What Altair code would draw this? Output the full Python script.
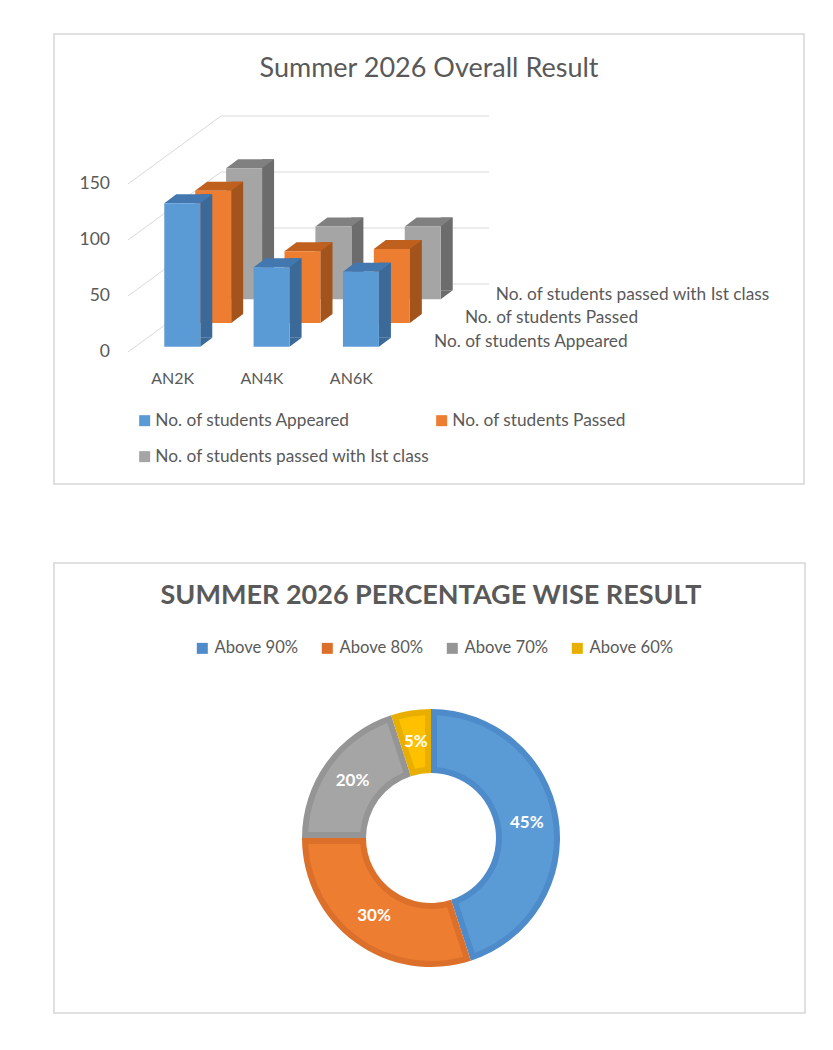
import altair as alt
import pandas as pd

# ---------------- data ----------------
categories = ["AN2K", "AN4K", "AN6K"]
series_names = [
    "No. of students Appeared",
    "No. of students Passed",
    "No. of students passed with Ist class",
]
appeared = [128, 71, 67]
passed = [118, 64, 66]
first_class = [117, 65, 65]
y_ticks = [0, 50, 100, 150]
title1 = "Summer 2026 Overall Result"

pct_labels = ["Above 90%", "Above 80%", "Above 70%", "Above 60%"]
pct_values = [45, 30, 20, 5]
title2 = "SUMMER 2026 PERCENTAGE WISE RESULT"

# ---------------- styles ----------------
FONT = "Lato"
TXT = "#595959"
GRID = "#d9d9d9"
front_colors = ["#5b9bd5", "#ed7d31", "#a5a5a5"]
top_colors = ["#4277b0", "#c0601f", "#808080"]
side_colors = ["#3b6a98", "#a2541c", "#6c6c6c"]
ring_colors = ["#4d8bca", "#dc6f2a", "#959595", "#e8ae00"]
fill_colors = ["#5b9bd5", "#ed7d31", "#a5a5a5", "#ffc000"]

rows = []
for s, vals in zip(series_names, [appeared, passed, first_class]):
    for c, v in zip(categories, vals):
        rows.append({"series": s, "category": c, "value": v})
bars = pd.DataFrame(rows)
grid = pd.DataFrame({"v": y_ticks})
cats_df = pd.DataFrame({"category": categories})

yscale = alt.Scale(domain=[0, 150], range=[318, 150], nice=False, zero=True)
xscale = alt.Scale(domain=categories, range=[74, 342], paddingInner=0, paddingOuter=0)

DEPTH_X = 30.9
DEPTH_Y = -23.7
WALL_Y = -68

legend1 = alt.Legend(
    orient="none", legendX=82, legendY=378, columns=2, direction="horizontal",
    title=None, symbolType="square", symbolSize=121, symbolStrokeWidth=0,
    labelFont=FONT, labelFontSize=17.3, labelColor=TXT, labelLimit=500,
    columnPadding=3, rowPadding=18, labelOffset=2, padding=0,
)

grid_diag = alt.Chart(grid).mark_rule(color=GRID, strokeWidth=1, y2Offset=WALL_Y).encode(
    y=alt.Y("v:Q", scale=yscale, axis=None),
    y2="v:Q",
    x=alt.value(74),
    x2=alt.value(167),
)
grid_back = alt.Chart(grid).mark_rule(color=GRID, strokeWidth=1, yOffset=WALL_Y).encode(
    y=alt.Y("v:Q", scale=yscale, axis=None),
    x=alt.value(167),
    x2=alt.value(435),
)
y_labels = alt.Chart(grid).mark_text(
    align="right", baseline="middle", font=FONT, fontSize=17.5, color=TXT
).encode(y=alt.Y("v:Q", scale=yscale, axis=None), x=alt.value(56), text="v:Q")
x_labels = alt.Chart(cats_df).mark_text(
    align="center", baseline="middle", font=FONT, fontSize=16, color=TXT
).encode(x=alt.X("category:N", scale=xscale, sort=categories, axis=None),
         y=alt.value(345), text="category:N")
t1 = alt.Chart(pd.DataFrame({"t": [title1]})).mark_text(
    align="center", baseline="middle", font=FONT, fontSize=27, color=TXT
).encode(x=alt.value(375), y=alt.value(35), text="t:N")

layers = [grid_diag, grid_back, y_labels, x_labels, t1]
TOP_PATH = "M-0.75,0L0.75,0L1.25,-0.375L-0.25,-0.375Z"
BOT_PATH = "M0.75,0L1.25,-0.375L0.75,-0.375Z"

for i in [2, 1, 0]:
    dx = 9.6 + DEPTH_X * i
    dy = -5.3 + DEPTH_Y * i
    sub = alt.Chart(bars).transform_filter(alt.datum.series == series_names[i])
    x_enc = alt.X("category:N", scale=xscale, sort=categories, axis=None)
    y_val = alt.Y("value:Q", scale=yscale, axis=None, stack=None)

    side = sub.mark_bar(width=12, xOffset=dx + 24, yOffset=dy - 9, y2Offset=dy - 9,
                        color=side_colors[i]).encode(x=x_enc, y=y_val, y2=alt.datum(0))
    bottom = sub.mark_point(shape=BOT_PATH, size=2304, filled=True, opacity=1,
                            strokeWidth=0, color=side_colors[i], xOffset=dx,
                            yOffset=dy).encode(x=x_enc, y=alt.datum(0))
    top = sub.mark_point(shape=TOP_PATH, size=2304, filled=True, opacity=1,
                         strokeWidth=0, color=top_colors[i], xOffset=dx,
                         yOffset=dy).encode(x=x_enc, y=y_val)
    front = sub.mark_bar(width=36, xOffset=dx, yOffset=dy, y2Offset=dy).encode(
        x=x_enc, y=y_val, y2=alt.datum(0),
        color=alt.Color("series:N", scale=alt.Scale(domain=series_names, range=front_colors),
                        legend=legend1, sort=series_names),
    )
    depth_label = alt.Chart(pd.DataFrame({"series": [series_names[i]]})).mark_text(
        align="left", baseline="middle", font=FONT, fontSize=17.3, color=TXT,
        xOffset=DEPTH_X * i, yOffset=dy - 4.7,
    ).encode(x=alt.value(380), y=alt.datum(0), text="series:N")
    layers += [side, bottom, top, front, depth_label]

chart1 = alt.layer(*layers).properties(width=750, height=450)

# ---------------- doughnut ----------------
pie = pd.DataFrame({"cat": pct_labels, "value": pct_values, "ord": list(range(len(pct_labels)))})

legend2 = alt.Legend(
    orient="none", legendX=140, legendY=77, direction="horizontal", title=None,
    symbolType="square", symbolSize=121, symbolStrokeWidth=0,
    labelFont=FONT, labelFontSize=16.6, labelColor=TXT, labelLimit=300,
    columnPadding=20, labelOffset=4, padding=0,
)

base2 = alt.Chart(pie).transform_calculate(
    label="datum.value + '%'"
).encode(
    theta=alt.Theta("value:Q", stack=True),
    order=alt.Order("ord:Q"),
    x=alt.value(377),
    y=alt.value(275),
)
ring = base2.mark_arc(radius=129, radius2=65).encode(
    color=alt.Color("cat:N", scale=alt.Scale(domain=pct_labels, range=ring_colors),
                    legend=legend2, sort=pct_labels)
)
fill = base2.mark_arc(radius=123, radius2=71, padAngle=0.0845).encode(
    color=alt.Color("cat:N", scale=alt.Scale(domain=pct_labels, range=fill_colors),
                    legend=None)
)
labels = base2.mark_text(radius=97, font=FONT, fontSize=17, fontWeight="bold",
                         color="white").encode(text="label:N")
t2 = alt.Chart(pd.DataFrame({"t": [title2]})).mark_text(
    align="center", baseline="middle", font=FONT, fontSize=27, fontWeight="bold", color=TXT
).encode(x=alt.value(377), y=alt.value(33), text="t:N")

chart2 = alt.layer(ring, fill, labels, t2).resolve_scale(color="independent").properties(
    width=751, height=450,
)

chart = alt.vconcat(chart1, chart2, spacing=77).properties(
    padding={"left": 53, "top": 33, "right": 0, "bottom": 0},
    background="white",
).configure_view(stroke="#d6d6d6", strokeWidth=1.5).configure_axis(disable=True)

chart.save("out.html", embed_options={"renderer": "svg", "actions": False})
